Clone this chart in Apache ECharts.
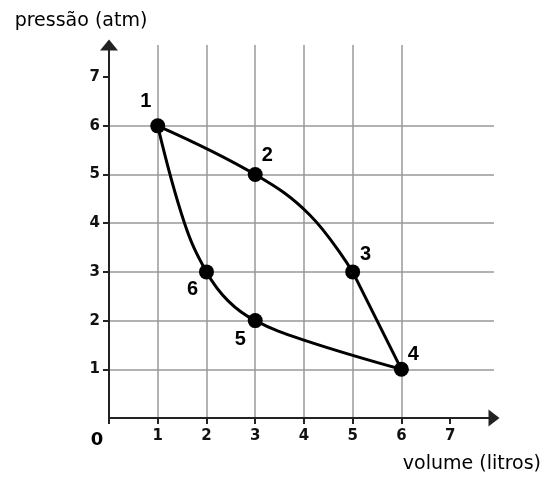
<!DOCTYPE html>
<html>
<head>
<meta charset="utf-8">
<script src="https://cdn.jsdelivr.net/npm/echarts@6/dist/echarts.min.js"></script>
<style>
  html, body { margin: 0; padding: 0; background: #fff; }
  #chart { width: 544px; height: 479px; }
</style>
</head>
<body>
<div id="chart"></div>
<script>
  // pontos do ciclo (volume, pressão)
  var pointNames = ['1', '2', '3', '4', '5', '6']
  var pointVolume = [1, 3, 5, 6, 3, 2]
  var pointPressure = [6, 5, 3, 1, 2, 3]

  // caminhos do ciclo (pontos intermédios só para a curvatura)
  var pathUpper = [[1, 6], [3, 5], [4.12, 4.17], [5, 3]]
  var pathStraight34 = [[5, 3], [6, 1]]
  var pathLower = [[6, 1], [4, 1.6], [3, 2], [2.45, 2.4], [2, 3], [1.55, 4], [1, 6]]

  var tickValues = [0, 1, 2, 3, 4, 5, 6, 7]

  // posição do rótulo de cada ponto
  var labelOffsets = [[-12, -24], [12, -19], [13, -17], [12, -15], [-15, 19], [-14, 18]]

  var chart = echarts.init(document.getElementById('chart'))

  var segStyle = { color: '#000', width: 3 }
  function segSeries (data, smooth) {
    return {
      type: 'line',
      data: data,
      smooth: smooth,
      symbol: 'none',
      lineStyle: segStyle,
      silent: true,
      z: 3
    }
  }

  var points = pointNames.map(function (n, i) {
    return {
      value: [pointVolume[i], pointPressure[i]],
      name: n,
      label: { offset: labelOffsets[i] }
    }
  })

  var axisFont = 'DejaVu Sans'

  chart.setOption({
    animation: false,
    grid: { left: 109, right: 50, top: 45, bottom: 61 },
    xAxis: {
      type: 'value',
      min: 0,
      max: 7.9,
      interval: 1,
      name: 'volume (litros)',
      nameLocation: 'end',
      nameGap: 47,
      nameTextStyle: {
        fontFamily: axisFont, fontSize: 19, color: '#000',
        align: 'right', verticalAlign: 'top', padding: [37, 0, 0, 0]
      },
      axisLine: {
        lineStyle: { color: '#222', width: 2 },
        symbol: ['none', 'triangle'],
        symbolSize: [17, 11]
      },
      axisTick: { show: true, length: 6, customValues: tickValues, lineStyle: { color: '#222', width: 2 } },
      axisLabel: {
        margin: 11,
        showMaxLabel: false,
        fontFamily: axisFont, fontSize: 15, fontWeight: 'bold', color: '#111',
        formatter: function (v) { return v === 0 ? '{z|0}' : v },
        rich: { z: { fontFamily: axisFont, fontSize: 18, color: '#000', padding: [2, 24, 0, 0] } }
      },
      splitLine: { show: true, showMinLine: false, showMaxLine: false, lineStyle: { color: '#999', width: 1.5 } }
    },
    yAxis: {
      type: 'value',
      min: 0,
      max: 7.66,
      interval: 1,
      name: 'pressão (atm)',
      nameLocation: 'end',
      nameGap: 14,
      nameTextStyle: {
        fontFamily: axisFont, fontSize: 19, color: '#000',
        padding: [0, 56, 0, 0]
      },
      axisLine: {
        lineStyle: { color: '#222', width: 2 },
        symbol: ['none', 'triangle'],
        symbolSize: [18, 11]
      },
      axisTick: { show: true, length: 6, customValues: tickValues, lineStyle: { color: '#222', width: 2 } },
      axisLabel: {
        margin: 9,
        showMinLabel: false,
        showMaxLabel: false,
        fontFamily: axisFont, fontSize: 15, fontWeight: 'bold', color: '#111'
      },
      splitLine: { show: true, showMinLine: false, showMaxLine: false, lineStyle: { color: '#999', width: 1.5 } }
    },
    series: [
      segSeries(pathUpper, 0.4),
      segSeries(pathStraight34, false),
      segSeries(pathLower, 0.4),
      {
        type: 'scatter',
        data: points,
        symbol: 'circle',
        symbolSize: 15,
        itemStyle: { color: '#000', opacity: 1 },
        z: 5,
        label: {
          show: true,
          position: 'inside',
          formatter: '{b}',
          fontFamily: 'Liberation Sans',
          fontWeight: 'bold',
          fontSize: 20,
          color: '#000'
        }
      }
    ]
  })
</script>
</body>
</html>
